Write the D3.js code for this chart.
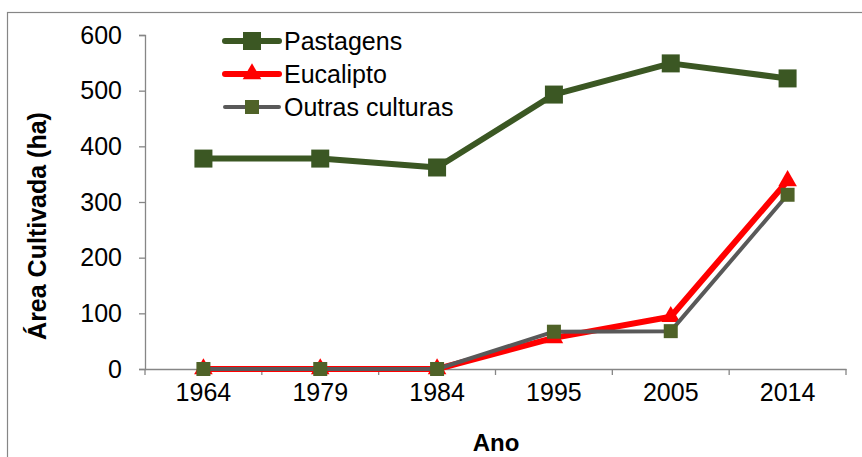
<!DOCTYPE html>
<html><head><meta charset="utf-8">
<script src="https://cdn.jsdelivr.net/npm/d3@7"></script>
<style>body{margin:0;background:#fff}svg{display:block}text{font-family:"Liberation Sans",Arial,sans-serif}</style>
</head><body><div id="chart"></div>
<script>
const categories = ["1964","1979","1984","1995","2005","2014"];
const pastagens = [378, 378, 362, 493, 549, 522];
const eucalipto = [0, 0, 0, 56, 94, 338];
const outras = [0, 0, 0, 67, 68, 313];
const yTicks = [0, 100, 200, 300, 400, 500, 600];
const seriesNames = ["Pastagens", "Eucalipto", "Outras culturas"];

const W = 862, H = 457;
const svg = d3.select("#chart").append("svg").attr("width", W).attr("height", H);
svg.append("rect").attr("x", 7.5).attr("y", 12.5).attr("width", 900).attr("height", 500)
  .attr("fill", "none").attr("stroke", "#868686").attr("stroke-width", 1.2);

const x = d3.scaleBand().domain(categories).range([145, 846]);
const y = d3.scaleLinear().domain([0, 600]).range([369, 35]);
const axisColor = "#868686";

// y axis
const ya = svg.append("g").attr("transform", "translate(145,0)")
  .call(d3.axisLeft(y).tickValues(yTicks).tickSize(6).tickPadding(17));
ya.select(".domain").attr("stroke", axisColor).attr("stroke-width", 1.3);
ya.selectAll(".tick line").attr("stroke", axisColor).attr("stroke-width", 1.3);
ya.selectAll("text").attr("font-size", 25).attr("fill", "#000").attr("font-family", '"Liberation Sans",Arial,sans-serif');

// x axis
const xa = svg.append("g").attr("transform", "translate(0,369)")
  .call(d3.axisBottom(x).tickSize(0).tickPadding(14));
xa.select(".domain").attr("stroke", axisColor).attr("stroke-width", 1.3);
xa.selectAll("text").attr("font-size", 25).attr("fill", "#000").attr("font-family", '"Liberation Sans",Arial,sans-serif');
const bounds = categories.map(c => x(c)).concat([x.range()[1]]);
svg.append("g").selectAll("line").data(bounds).join("line")
  .attr("x1", d => d).attr("x2", d => d).attr("y1", 369).attr("y2", 375)
  .attr("stroke", axisColor).attr("stroke-width", 1.3);

// titles
svg.append("text").attr("transform", "translate(46,226) rotate(-90)")
  .attr("text-anchor", "middle").attr("font-size", 25).attr("font-weight", "bold").text("Área Cultivada (ha)");
svg.append("text").attr("x", 496).attr("y", 451).attr("text-anchor", "middle")
  .attr("font-size", 24).attr("font-weight", "bold").text("Ano");

const cx = c => x(c) + x.bandwidth() / 2;
const line = vals => d3.line().x((d, i) => cx(categories[i])).y(d => y(d))(vals);

// Pastagens
svg.append("path").attr("d", line(pastagens)).attr("fill", "none").attr("stroke", "#3B5723")
  .attr("stroke-width", 6).attr("stroke-linejoin", "round");
svg.append("g").selectAll("rect").data(pastagens).join("rect")
  .attr("x", (d, i) => cx(categories[i]) - 9).attr("y", d => y(d) - 9)
  .attr("width", 18).attr("height", 18).attr("fill", "#3B5723");

// Eucalipto
svg.append("path").attr("d", line(eucalipto)).attr("fill", "none").attr("stroke", "#FF0000")
  .attr("stroke-width", 6).attr("stroke-linejoin", "round");
const tri = d3.symbol().type(d3.symbolTriangle).size(150);
svg.append("g").selectAll("path").data(eucalipto).join("path")
  .attr("d", tri).attr("transform", (d, i) => `translate(${cx(categories[i])},${y(d)})`)
  .attr("fill", "#FF0000");

// Outras culturas
svg.append("path").attr("d", line(outras)).attr("fill", "none").attr("stroke", "#595959")
  .attr("stroke-width", 4).attr("stroke-linejoin", "round");
svg.append("g").selectAll("rect").data(outras).join("rect")
  .attr("x", (d, i) => cx(categories[i]) - 7).attr("y", d => y(d) - 7)
  .attr("width", 14).attr("height", 14).attr("fill", "#4F6228");

// legend
const lg = svg.append("g");
const ly = [41, 74, 107];
const lstyles = [
  {stroke: "#3B5723", w: 6, marker: "sq", size: 18, fill: "#3B5723"},
  {stroke: "#FF0000", w: 6, marker: "tri", fill: "#FF0000"},
  {stroke: "#595959", w: 4, marker: "sq", size: 14, fill: "#4F6228"}
];
seriesNames.forEach((name, i) => {
  const s = lstyles[i];
  lg.append("line").attr("x1", 225).attr("x2", 279).attr("y1", ly[i]).attr("y2", ly[i])
    .attr("stroke", s.stroke).attr("stroke-width", s.w).attr("stroke-linecap", "round");
  if (s.marker === "sq") {
    lg.append("rect").attr("x", 252 - s.size / 2).attr("y", ly[i] - s.size / 2)
      .attr("width", s.size).attr("height", s.size).attr("fill", s.fill);
  } else {
    lg.append("path").attr("d", tri).attr("transform", `translate(252,${ly[i]})`).attr("fill", s.fill);
  }
  lg.append("text").attr("x", 284).attr("y", ly[i]).attr("dy", "0.36em")
    .attr("font-size", 25).text(name);
});
</script></body></html>
